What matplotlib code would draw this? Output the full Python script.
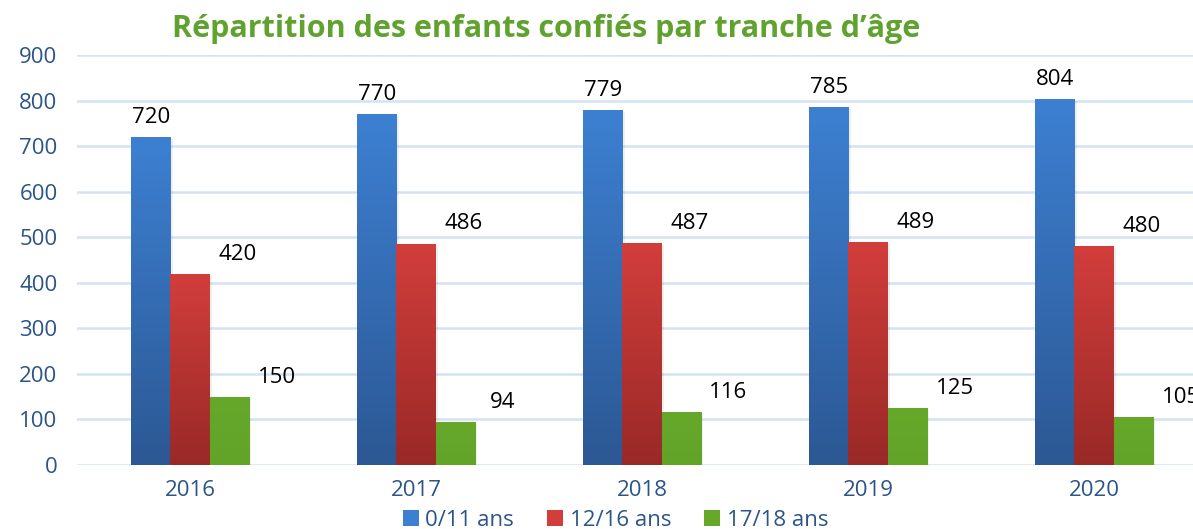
import numpy as np
import matplotlib.pyplot as plt
from matplotlib.colors import LinearSegmentedColormap
from matplotlib.patches import Patch

years = ['2016', '2017', '2018', '2019', '2020']
series_names = ['0/11 ans', '12/16 ans', '17/18 ans']
age_0_11 = [720, 770, 779, 785, 804]
age_12_16 = [420, 486, 487, 489, 480]
age_17_18 = [150, 94, 116, 125, 105]

plt.rcParams['font.family'] = ['Open Sans', 'DejaVu Sans']

# (top colour, bottom colour) for each series
shades = [('#3d80d2', '#2c5894'),
          ('#d23e3c', '#992927'),
          ('#66a82a', '#62a428')]
label_shift = [0.0, 0.21, 0.21]
tick_col = '#2b5488'
fs = 16

fig = plt.figure(figsize=(11.93, 5.29), dpi=100)
ax = fig.add_axes([77 / 1193, 64 / 529, 1130 / 1193, 410 / 529])

x = np.arange(len(years))
w = 0.173
grad = np.linspace(0, 1, 256).reshape(-1, 1)
for i, vals in enumerate([age_0_11, age_12_16, age_17_18]):
    cmap = LinearSegmentedColormap.from_list('g%d' % i, [shades[i][1], shades[i][0]])
    pos = x + (i - 1) * w
    bars = ax.bar(pos, vals, w, color=shades[i][0], zorder=3)
    for b, v in zip(bars, vals):
        # soft shadow on the right of each bar
        ax.bar(b.get_x() + b.get_width() / 2 + 0.012, v, w, bottom=-4,
               color='#000000', alpha=0.06, zorder=2, lw=0)
        im = ax.imshow(grad, cmap=cmap, aspect='auto', origin='lower',
                       extent=(b.get_x(), b.get_x() + w, 0, v), zorder=3)
        im.set_clip_path(b)
        ax.text(b.get_x() + w / 2 + label_shift[i], v + 20, str(v),
                ha='center', va='bottom', fontsize=fs, color='black', zorder=5)

ax.set_xlim(-0.5, 4.5)
ax.set_ylim(0, 900)
ax.set_yticks(range(0, 901, 100))
ax.set_xticks(x)
ax.set_xticklabels(years)
ax.grid(axis='y', color='#d5e2f1', lw=1.8, zorder=0)
ax.set_axisbelow(True)
for s in ax.spines.values():
    s.set_visible(False)
ax.tick_params(axis='both', length=0, colors=tick_col, labelsize=fs)
ax.tick_params(axis='y', pad=14)
ax.tick_params(axis='x', pad=11)

fig.text(0.458, 0.945, "Répartition des enfants confiés par tranche d\u2019âge",
         ha='center', va='center', fontsize=22, fontweight='bold', color='#5fa22d')

handles = [Patch(facecolor=shades[i][0], edgecolor='none') for i in range(3)]
leg = fig.legend(handles, series_names, loc='center', bbox_to_anchor=(0.516, 0.017),
                 ncol=3, frameon=False, fontsize=fs, handlelength=0.7,
                 handleheight=0.7, handletextpad=0.3, columnspacing=1.5,
                 borderaxespad=0)
for t in leg.get_texts():
    t.set_color(tick_col)

fig.savefig('out.png', dpi=100)
